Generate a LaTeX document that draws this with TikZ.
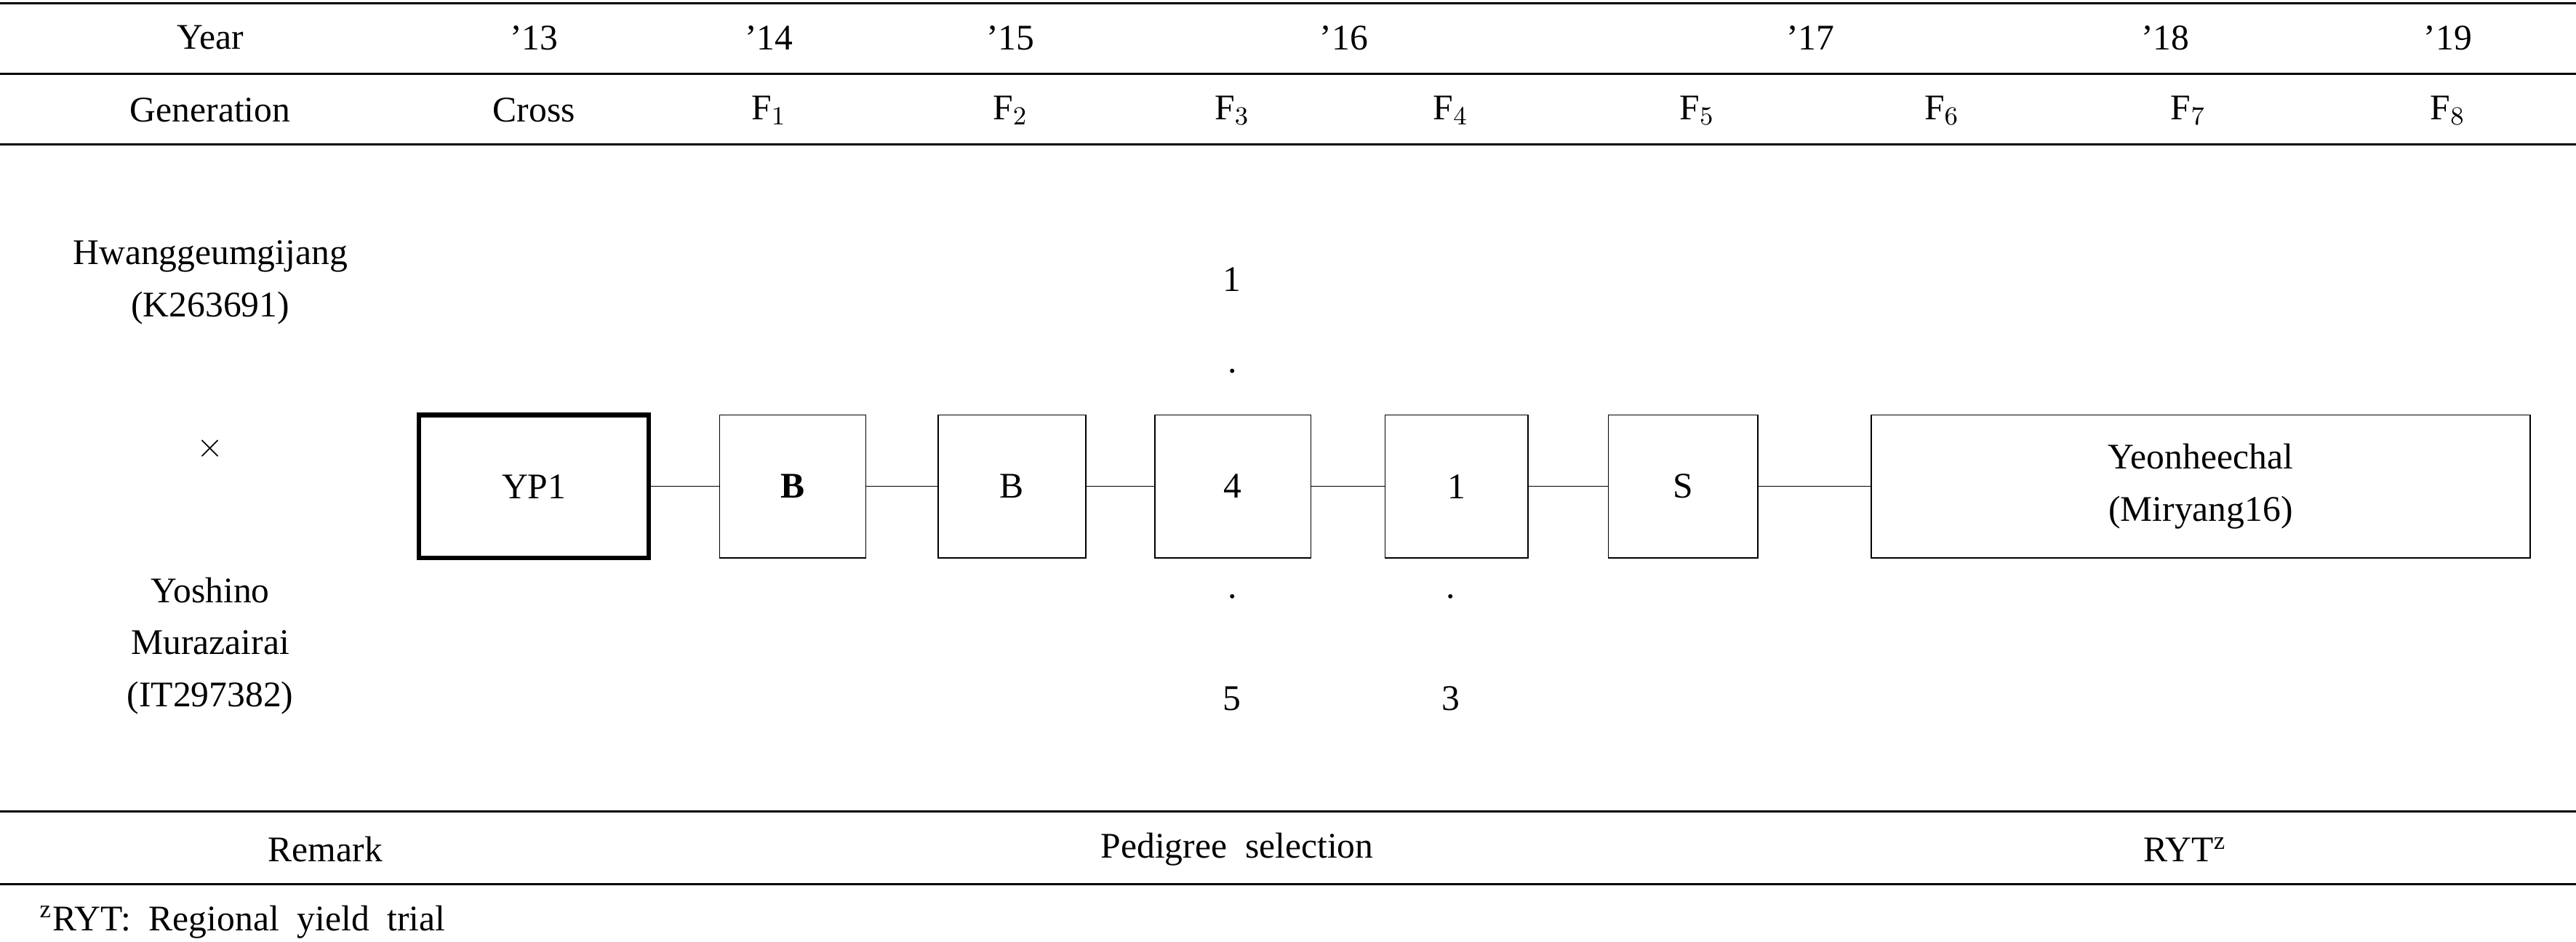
\documentclass[tikz,border=0pt]{standalone}
\usepackage{fontspec}
\setmainfont{Liberation Serif}
\begin{document}
\tikzstyle{stage} = [rectangle, draw=black, minimum height=1.74cm, text centered, inner sep=0pt]
\tikzstyle{rule} = [thick]
\tikzstyle{txt} = [align=center, font=\fontsize{12.5}{18}\selectfont]
\begin{tikzpicture}[x=0.02cm, y=-0.02cm, every node/.style={txt}]
		\useasboundingbox (0,0) rectangle (1568,573);
		% table rules
		\draw [rule] (0,2) -- (1568,2);
		\draw [rule] (0,45) -- (1568,45);
		\draw [rule] (0,88) -- (1568,88);
		\draw [rule] (0,494) -- (1568,494);
		\draw [rule] (0,538) -- (1568,538);
		
		% header rows
		\foreach \x/\t in {128/Year, 325/'13, 468/'14, 615/'15, 818/'16, 1102/'17, 1318/'18, 1490/'19}
			\node at (\x,23) {\t};
		\foreach \x/\t in {128/Generation, 325/Cross, 468/F$_1$, 615/F$_2$, 750/F$_3$, 883/F$_4$, 1033/F$_5$, 1182/F$_6$, 1332/F$_7$, 1490/F$_8$}
			\node at (\x,67) {\t};
		
		% parents
		\node (mother) at (128,172) {Hwanggeumgijang\\(K263691)};
		\node (cross) at (128,273) {$\times$};
		\node (father) at (128,393) {Yoshino\\Murazairai\\(IT297382)};
		
		% selection boxes
		\node (yp) [stage, line width=1.6pt, minimum width=2.8cm] at (325,296) {YP1};
		\node (f1) [stage, minimum width=1.78cm] at (482.5,296) {\textbf{B}};
		\node (f2) [stage, minimum width=1.8cm] at (616,296) {B};
		\node (f3) [stage, minimum width=1.9cm] at (750.5,296) {4};
		\node (f4) [stage, minimum width=1.74cm] at (886.5,296) {1};
		\node (f5) [stage, minimum width=1.82cm] at (1024.5,296) {S};
		\node (ryt) [stage, minimum width=8.02cm] at (1339.5,296) {Yeonheechal\\(Miryang16)};
		
		\draw (yp) -- (f1);
		\draw (f1) -- (f2);
		\draw (f2) -- (f3);
		\draw (f3) -- (f4);
		\draw (f4) -- (f5);
		\draw (f5) -- (ryt);
		
		% selected lines
		\node (n1) at (750,170) {1};
		\node (d1) at (750,226) {.};
		\node (d2) at (750,363) {.};
		\node (n5) at (750,425) {5};
		\node (d3) at (883,363) {.};
		\node (n3) at (883,425) {3};
		
		% remark row
		\node at (198,517) {Remark};
		\node at (753,517) {Pedigree\ \ selection};
		\node at (1330,517) {RYT$^{\mathrm{z}}$};
		\node [anchor=west] at (18,561) {$^{\mathrm{z}}$RYT:\ \ Regional\ \ yield\ \ trial};
	\end{tikzpicture}
\end{document}
